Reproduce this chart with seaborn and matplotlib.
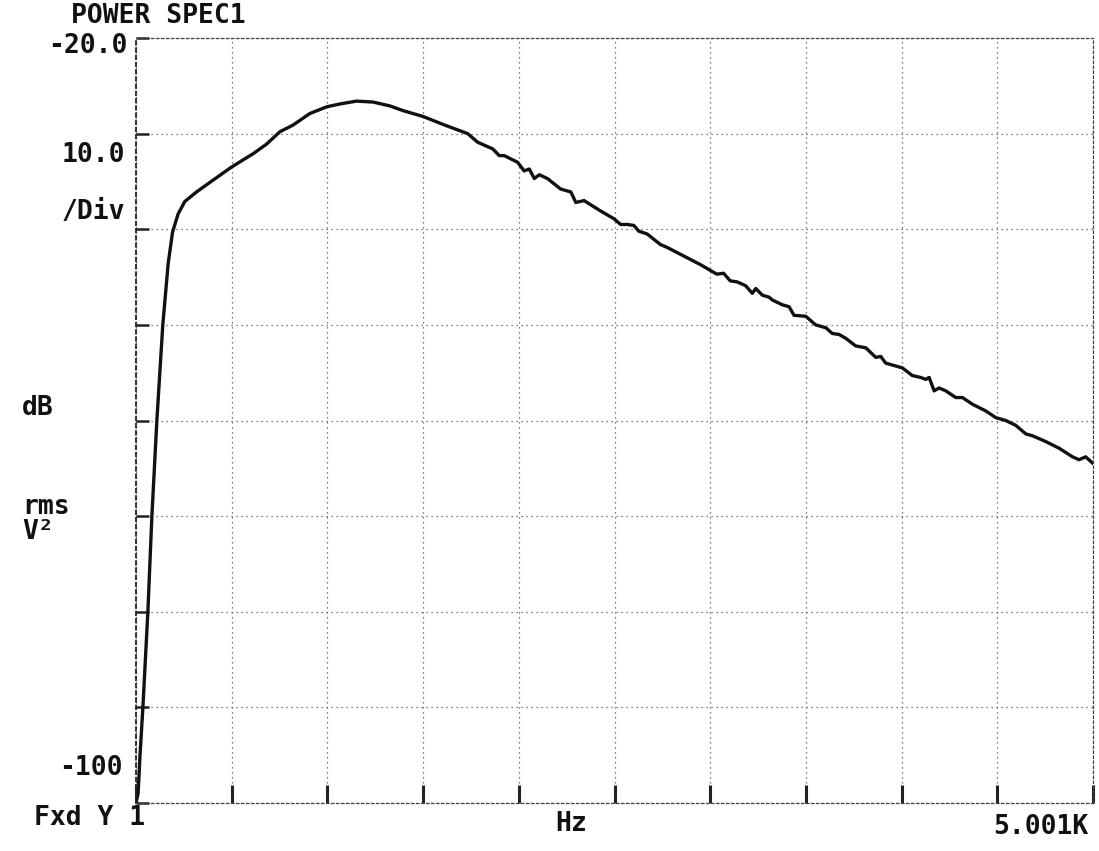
import numpy as np
import pandas as pd
import matplotlib
matplotlib.use("Agg")
import matplotlib.pyplot as plt
import seaborn as sns

# ---- data (Hz, dB rms V^2) ----
freq_hz = [1, 12, 22, 37, 63, 84, 110, 141, 169, 192, 221, 256, 317, 387, 500,
           613, 683, 753, 822, 909, 997, 1066, 1153, 1240, 1327, 1397, 1500,
           1613, 1734, 1786, 1865, 1899, 1925, 1995, 2029, 2056, 2082, 2108,
           2151, 2220, 2273, 2299, 2342, 2429, 2455, 2498, 2533, 2568, 2602,
           2628, 2672, 2741, 2776, 2863, 2950, 3010, 3036, 3071, 3106, 3141,
           3186, 3221, 3239, 3274, 3308, 3326, 3378, 3413, 3439, 3500, 3552,
           3605, 3639, 3674, 3709, 3761, 3814, 3866, 3892, 3918, 3970, 4005,
           4057, 4101, 4127, 4145, 4171, 4197, 4232, 4284, 4319, 4371, 4441,
           4493, 4545, 4597, 4650, 4685, 4754, 4824, 4894, 4928, 4963, 5001]
power_db = [-100.0, -99.0, -95.0, -90.0, -80.0, -70.0, -60.0, -50.0, -43.6, -40.3,
            -38.4, -37.1, -36.1, -35.1, -33.5, -32.1, -31.1, -29.8, -29.1, -27.9,
            -27.2, -26.9, -26.6, -26.7, -27.1, -27.6, -28.2, -29.1, -30.0, -30.9,
            -31.6, -32.3, -32.3, -33.0, -33.9, -33.7, -34.7, -34.3, -34.7, -35.8,
            -36.1, -37.2, -37.0, -38.1, -38.4, -38.9, -39.5, -39.5, -39.6, -40.2,
            -40.5, -41.6, -41.9, -42.8, -43.7, -44.4, -44.7, -44.6, -45.4, -45.5,
            -45.9, -46.7, -46.2, -46.9, -47.1, -47.4, -47.9, -48.1, -49.0, -49.1,
            -50.0, -50.3, -50.9, -51.0, -51.4, -52.2, -52.4, -53.4, -53.3, -54.0,
            -54.3, -54.5, -55.3, -55.5, -55.7, -55.5, -56.9, -56.6, -56.9, -57.6,
            -57.6, -58.3, -59.0, -59.7, -60.0, -60.5, -61.4, -61.6, -62.2, -62.9,
            -63.8, -64.1, -63.8, -64.5]

x_start, x_stop, x_div = 1, 5001, 500
y_top, y_bottom, y_div = -20, -100, 10

title_text = "POWER SPEC1"
top_label = "-20.0"
scale_label = "10.0"
div_label = "/Div"
unit_label = "dB"
rms_label = "rms"
v2_label = "V²"
bottom_label = "-100"
fxd_label = "Fxd Y 1"
x_unit = "Hz"
x_end_label = "5.001K"

df = pd.DataFrame({"freq": freq_hz, "db": power_db})

sns.set_style("white")
plt.rcParams["font.family"] = ["DejaVu Sans Mono", "DejaVu Sans"]

W, H = 1099, 851
fig = plt.figure(figsize=(W / 100, H / 100), dpi=100)
L, R, T, B = 136, 1093, 38, 803
ax = fig.add_axes([L / W, 1 - B / H, (R - L) / W, (B - T) / H])

sns.lineplot(data=df, x="freq", y="db", ax=ax, color="#111111",
             linewidth=2.4, estimator=None, sort=False)

ax.set_xlim(x_start, x_stop)
ax.set_ylim(y_bottom, y_top)
ax.set_xticks(np.arange(x_start, x_stop + 1, x_div))
ax.set_yticks(np.arange(y_bottom, y_top + 1, y_div))
ax.set_xlabel("")
ax.set_ylabel("")
ax.tick_params(axis="x", direction="in", length=13, width=2.2, color="#222222",
               bottom=True, top=False, labelbottom=False)
ax.tick_params(axis="y", direction="in", length=9, width=1.8, color="#222222",
               left=True, right=False, labelleft=False)
ax.grid(True, linestyle=(0, (1, 3)), color="#555555", linewidth=0.9)
for name, sp in ax.spines.items():
    sp.set_linestyle((0, (2, 2)))
    sp.set_color("#444444")
    sp.set_linewidth(0.9)
ax.spines["left"].set_linewidth(1.3)
ax.spines["left"].set_color("#222222")

fs = 19
kw = dict(fontsize=fs, color="#111111", fontweight="bold")


def put(txt, x, y, ha="left"):
    fig.text(x / W, 1 - y / H, txt, ha=ha, va="center", **kw)


put(title_text, 158, 16, ha="center")
put(top_label, 128, 46, ha="right")
put(scale_label, 125, 155, ha="right")
put(div_label, 125, 212, ha="right")
put(unit_label, 22, 408)
put(rms_label, 22, 507)
put(v2_label, 22, 532)
put(bottom_label, 123, 768, ha="right")
put(fxd_label, 90, 818, ha="center")
put(x_unit, 571, 824, ha="center")
put(x_end_label, 1088, 827, ha="right")

fig.savefig("out.png", dpi=100, facecolor="white")
